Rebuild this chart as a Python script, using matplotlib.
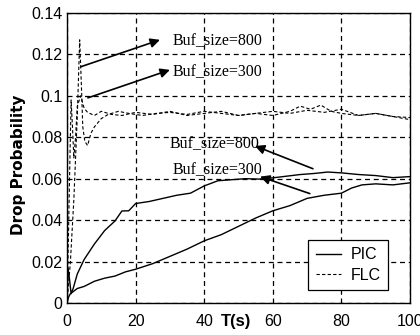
import matplotlib
matplotlib.use("Agg")
import matplotlib.pyplot as plt

SANS = "Liberation Sans"

# ---- data ----
t_pic800 = [0, 0.3, 0.7, 1.2, 1.8, 3, 5, 8, 11, 14, 16, 18, 20, 24, 28, 32, 36, 40,
            44, 48, 52, 56, 60, 64, 68, 72, 76, 80, 85, 90, 95, 100]
pic800 = [0, 0.017, 0.012, 0.0045, 0.007, 0.014, 0.021, 0.0285, 0.035, 0.0396,
          0.0444, 0.0445, 0.048, 0.049, 0.0505, 0.052, 0.053, 0.0565,
          0.059, 0.0595, 0.060, 0.0598, 0.0604, 0.0612, 0.062, 0.0625, 0.0632,
          0.0628, 0.062, 0.0615, 0.0605, 0.061]

t_pic300 = [0, 0.5, 1, 3, 5, 8, 11, 14, 17, 20, 25, 30, 35, 40, 45, 50, 55, 60,
            65, 70, 75, 80, 83, 86, 90, 95, 100]
pic300 = [0, 0.003, 0.0045, 0.007, 0.008, 0.0105, 0.012, 0.013, 0.015, 0.0163,
          0.019, 0.0225, 0.026, 0.030, 0.033, 0.037, 0.041, 0.0445,
          0.047, 0.0505, 0.052, 0.053, 0.0555, 0.057, 0.0575, 0.057, 0.058]

t_flc800 = [0, 1, 2, 3, 3.7, 4.2, 4.6, 5.2, 6, 7, 8, 10, 12, 15, 18, 22, 26, 30,
            35, 40, 45, 50, 55, 60, 65, 68, 71, 74, 77, 80, 85, 90, 95, 100]
flc800 = [0, 0.02, 0.05, 0.09, 0.127, 0.105, 0.085, 0.078, 0.076, 0.082, 0.085,
          0.089, 0.091, 0.0925, 0.0915, 0.0905, 0.0915, 0.092, 0.091, 0.0925,
          0.0915, 0.0905, 0.0915, 0.0905, 0.0925, 0.095, 0.0935, 0.0955, 0.0925,
          0.0915, 0.0905, 0.0915, 0.090, 0.0895]

t_flc300 = [0, 0.4, 0.8, 1.2, 1.6, 2.0, 2.5, 3, 4, 5, 6, 8, 10, 13, 16, 20, 25,
            30, 35, 40, 45, 50, 55, 60, 65, 70, 75, 80, 85, 90, 95, 100]
flc300 = [0, 0.03, 0.065, 0.098, 0.085, 0.07, 0.08, 0.095, 0.1, 0.094, 0.092,
          0.0905, 0.0925, 0.091, 0.0905, 0.092, 0.091, 0.0925, 0.0905, 0.0915,
          0.0925, 0.0905, 0.0915, 0.0925, 0.0915, 0.093, 0.092, 0.0935,
          0.0905, 0.0915, 0.090, 0.0885]

xticks = [0, 20, 40, 60, 80, 100]
yticks = [0, 0.02, 0.04, 0.06, 0.08, 0.1, 0.12, 0.14]
ytick_labels = ["0", "0.02", "0.04", "0.06", "0.08", "0.1", "0.12", "0.14"]

# annotations: text, text position, arrow tail, arrow head
ann_text = ["Buf_size=800", "Buf_size=300", "Buf_size=800", "Buf_size=300"]
ann_text_xy = [(30.9, 0.1265), (30.9, 0.1115), (30.0, 0.0765), (30.9, 0.0642)]
ann_tail = [(4.0, 0.114), (6.1, 0.099), (71.7, 0.0648), (70.8, 0.0528)]
ann_head = [(27.1, 0.127), (30.0, 0.1125), (54.8, 0.0758), (56.3, 0.061)]

# ---- plot ----
fig = plt.figure(figsize=(4.2, 3.35), dpi=100)
ax = fig.add_axes([0.1595, 0.0955, 0.8167, 0.866])

dash = (0, (3, 2))
ax.plot(t_pic800, pic800, color="black", lw=1.0, label="PIC")
ax.plot(t_pic300, pic300, color="black", lw=1.0)
ax.plot(t_flc800, flc800, color="black", lw=0.8, linestyle=dash, label="FLC")
ax.plot(t_flc300, flc300, color="black", lw=0.8, linestyle=dash)

ax.set_xlim(0, 100)
ax.set_ylim(0, 0.14)
ax.set_xticks(xticks)
ax.set_yticks(yticks)
ax.set_yticklabels(ytick_labels)
ax.tick_params(direction="in", length=0, labelsize=11.5)
ax.tick_params(axis="x", pad=8)
ax.tick_params(axis="y", pad=3.5)
for lab in ax.get_xticklabels() + ax.get_yticklabels():
    lab.set_fontfamily(SANS)
ax.grid(True, color="black", linestyle=(0, (4, 3)), linewidth=0.9)
for s in ax.spines.values():
    s.set_linewidth(1.0)
    s.set_color("black")

for txt, txy, tail, head in zip(ann_text, ann_text_xy, ann_tail, ann_head):
    ax.text(txy[0], txy[1], txt, fontfamily="Liberation Serif", fontsize=11.5,
            ha="left", va="center")
    ax.annotate("", xy=head, xytext=tail,
                arrowprops=dict(arrowstyle="-|>", color="black", lw=1.2,
                                mutation_scale=14, shrinkA=0, shrinkB=0))

fig.text(0.045, 0.508, "Drop Probability", rotation=90, fontfamily="DejaVu Sans",
         fontweight="bold", fontsize=11, ha="center", va="center")
fig.text(0.562, 0.04, "T(s)", fontfamily=SANS, fontweight="bold",
         fontsize=12, ha="center", va="center")

leg = ax.legend(loc="lower right", bbox_to_anchor=(0.936, 0.045),
                prop={"family": SANS, "size": 11.5}, handlelength=1.6,
                fancybox=False, framealpha=1, edgecolor="black",
                borderpad=0.45, labelspacing=0.35, handletextpad=0.6,
                borderaxespad=0)
leg.get_frame().set_linewidth(0.9)

fig.savefig("out.png", dpi=100)
